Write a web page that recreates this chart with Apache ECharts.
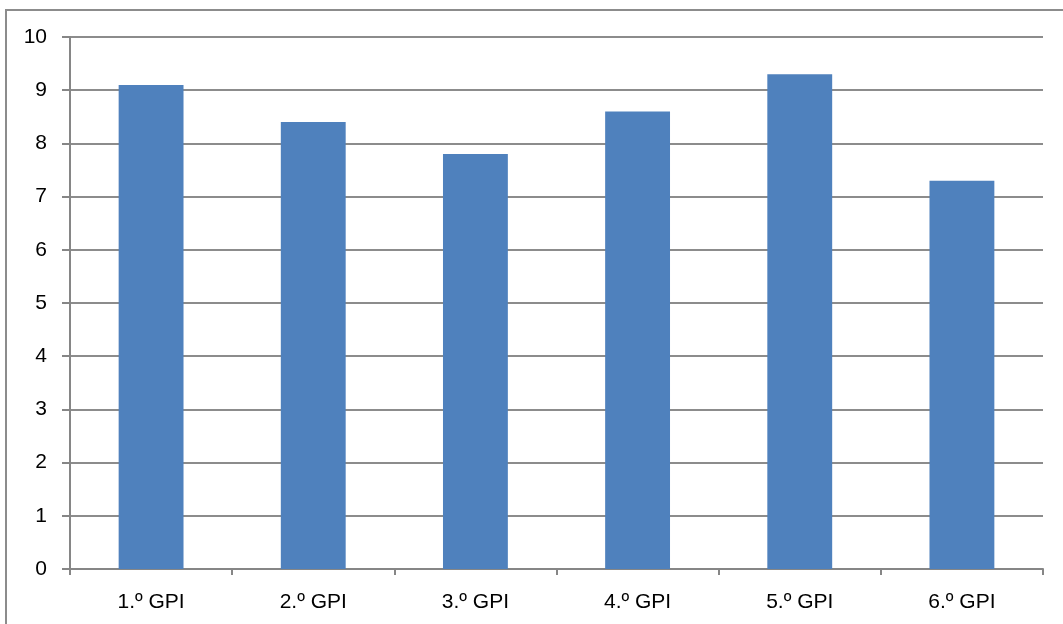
<!DOCTYPE html>
<html><head><meta charset="utf-8">
<script src="https://cdn.jsdelivr.net/npm/echarts@6/dist/echarts.min.js"></script>
<style>html,body{margin:0;padding:0;background:#fff}#c{width:1063px;height:624px}</style>
</head><body><div id="c"></div>
<script>
const categories = ['1.º GPI','2.º GPI','3.º GPI','4.º GPI','5.º GPI','6.º GPI'];
const values = [9.1, 8.4, 7.8, 8.6, 9.3, 7.3];
const chart = echarts.init(document.getElementById('c'));
const font = '"Liberation Sans", Arial, sans-serif';
chart.setOption({
  animation: false,
  backgroundColor: '#fff',
  graphic: [{type:'rect', shape:{x:6, y:10, width:1200, height:800}, style:{fill:'none', stroke:'#8c8c8c', lineWidth:2}, silent:true}],
  grid: {left:70, top:37, right:20, bottom:55, containLabel:false},
  xAxis: {
    type:'category', data:categories,
    axisLine:{lineStyle:{color:'#868686', width:2}},
    axisTick:{show:true, length:6, lineStyle:{color:'#868686', width:2}},
    axisLabel:{color:'#000', fontSize:21, fontFamily:font, margin:23}
  },
  yAxis: {
    type:'value', min:0, max:10, interval:1,
    axisLine:{show:true, lineStyle:{color:'#868686', width:2}},
    axisTick:{show:true, length:8, lineStyle:{color:'#868686', width:2}},
    splitLine:{lineStyle:{color:'#8c8c8c', width:2}},
    axisLabel:{color:'#000', fontSize:21, fontFamily:font, margin:23}
  },
  series: [{type:'bar', data:values, barWidth:'40%', itemStyle:{color:'#4F81BD'}}]
});
</script></body></html>
